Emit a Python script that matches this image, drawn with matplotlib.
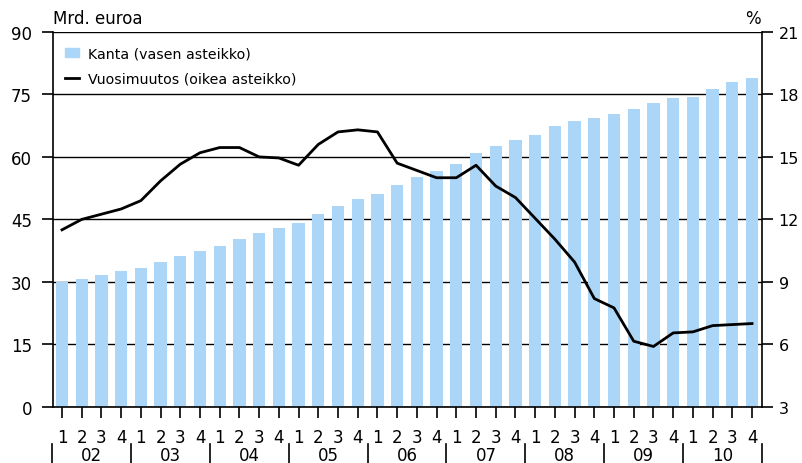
import matplotlib.pyplot as plt
import matplotlib.patches as mpatches
import matplotlib.lines as mlines

plt.rcParams['font.family'] = ['DejaVu Sans']

years = ['02', '03', '04', '05', '06', '07', '08', '09', '10']
quarters = ['1', '2', '3', '4']

# Kanta, mrd. euroa (left axis)
kanta = [30.0, 30.6, 31.7, 32.5, 33.3, 34.7, 36.3, 37.4, 38.6, 40.2, 41.7, 42.9,
         44.1, 46.3, 48.3, 49.8, 51.0, 53.3, 55.1, 56.7, 58.2, 61.0, 62.6, 64.0,
         65.2, 67.5, 68.6, 69.4, 70.2, 71.4, 72.9, 74.1, 74.5, 76.4, 77.9, 79.0]

# Vuosimuutos, % (right axis)
muutos = [11.5, 12.0, 12.25, 12.5, 12.9, 13.85, 14.65, 15.2, 15.45, 15.45, 15.0, 14.95,
          14.6, 15.6, 16.2, 16.3, 16.2, 14.7, 14.35, 14.0, 14.0, 14.6, 13.6, 13.05,
          12.05, 11.05, 9.95, 8.2, 7.75, 6.15, 5.9, 6.55, 6.6, 6.9, 6.95, 7.0]

bar_color = '#acd6f8'
x = list(range(len(kanta)))

fig = plt.figure(figsize=(8.02, 4.64), dpi=100)
ax = fig.add_axes([0.066, 0.121, 0.884, 0.808])
ax2 = ax.twinx()

ax.set_axisbelow(True)
ax.yaxis.grid(True, color='black', lw=1)
ax.bar(x, kanta, width=0.62, color=bar_color, zorder=2)
ax2.plot(x, muutos, color='black', lw=2)

ax.set_xlim(-0.46, 35.5)
ax.set_ylim(0, 90)
ax.set_yticks(range(0, 91, 15))
ax2.set_ylim(3, 21)
ax2.set_yticks(range(3, 22, 3))

for a in (ax, ax2):
    a.spines['top'].set_visible(False)
    for s in a.spines.values():
        s.set_linewidth(1.2)
ax.spines['right'].set_visible(False)
ax2.spines['left'].set_visible(False)
ax2.spines['bottom'].set_visible(False)

ax.tick_params(axis='y', direction='out', length=8, width=1.2, pad=7, labelsize=12)
ax2.tick_params(axis='y', direction='out', length=8, width=1.2, pad=4, labelsize=11.5)

# quarter labels and year labels
ax.set_xticks(x)
ax.set_xticklabels(quarters * len(years))
ax.tick_params(axis='x', direction='out', length=8, width=1.2, pad=7, labelsize=12)

trans = ax.get_xaxis_transform()
for k, y in enumerate(years):
    ax.text(4 * k + 1.5, -0.128, y, transform=trans, ha='center', va='center', fontsize=12)
for k in range(len(years) + 1):
    ax.plot([4 * k - 0.5, 4 * k - 0.5], [-0.099, -0.149], transform=trans,
            color='black', lw=1.2, clip_on=False)

fig.text(0.066, 0.958, 'Mrd. euroa', ha='left', va='center', fontsize=12)
fig.text(0.939, 0.958, '%', ha='center', va='center', fontsize=12)

h1 = mpatches.Patch(color=bar_color, label='Kanta (vasen asteikko)')
h2 = mlines.Line2D([], [], color='black', lw=2, label='Vuosimuutos (oikea asteikko)')
ax2.legend(handles=[h1, h2], loc='upper left', bbox_to_anchor=(0.017, 0.96), frameon=False,
           fontsize=10.2, handlelength=1.0, handleheight=0.6, handletextpad=0.6,
           labelspacing=0.78, borderpad=0, borderaxespad=0)

fig.savefig('out.png', dpi=100)
